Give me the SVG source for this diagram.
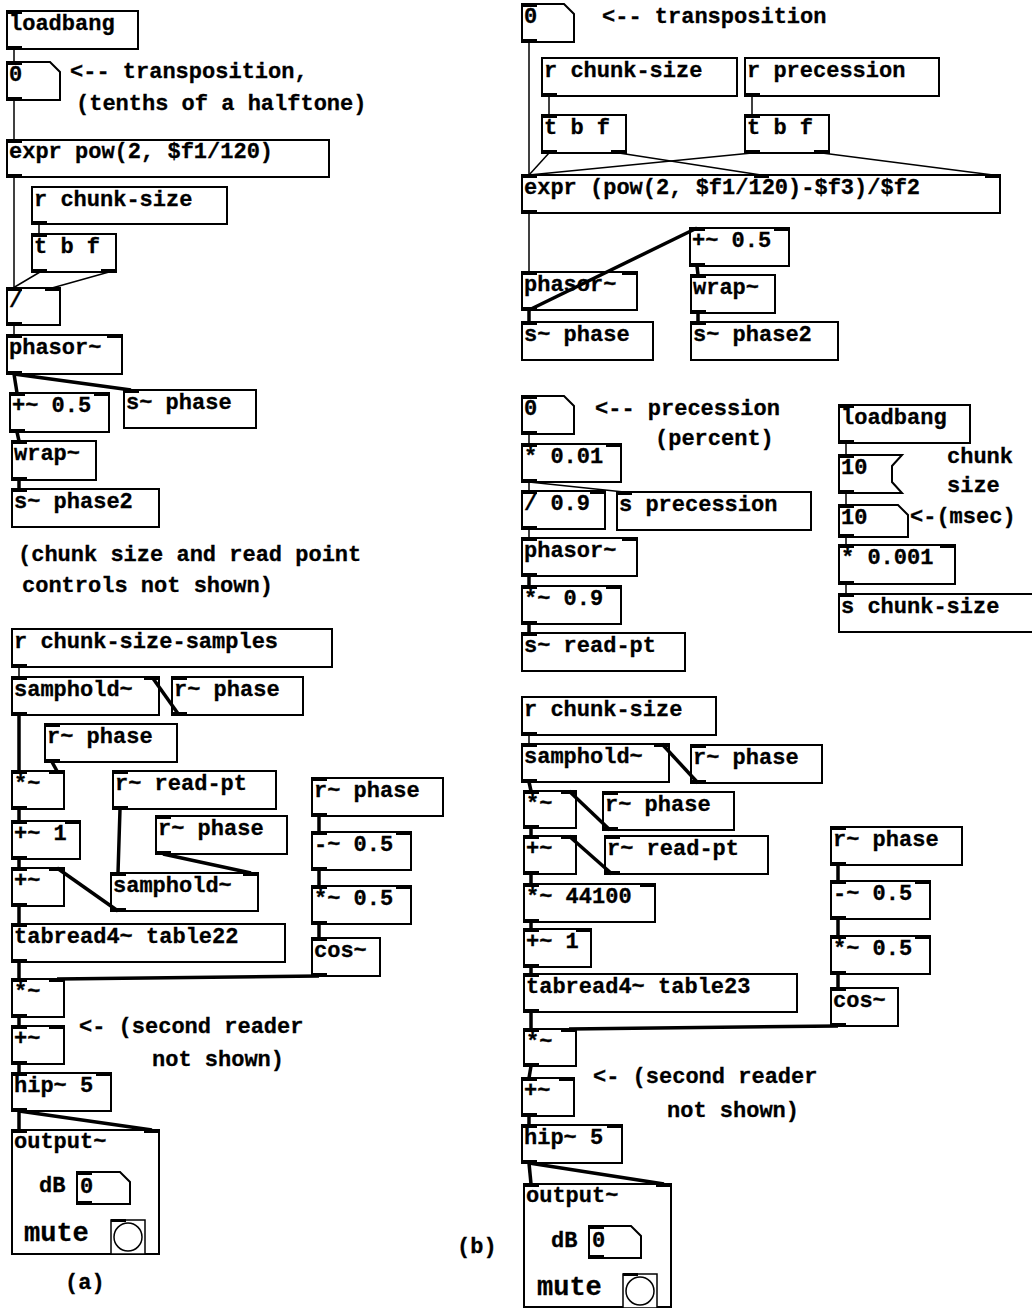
<svg xmlns="http://www.w3.org/2000/svg" width="1032" height="1308" viewBox="0 0 1032 1308">
<style>
.b{fill:#fff;stroke:#000;stroke-width:2}
.t{font-family:"Liberation Mono","Courier New",monospace;font-weight:bold;font-size:22px;fill:#000;stroke:#000;stroke-width:0.3}
.m{font-size:27px}
.io{fill:#000}
.c{stroke:#000;stroke-width:1.5;fill:none}
.s{stroke:#000;stroke-width:3.5;fill:none}
.tg{fill:#fff;stroke:#000;stroke-width:1.5}
</style>
<rect width="1032" height="1308" fill="#fff"/>

<!-- ===== (a) ===== -->
<g id="a_loadbang"><rect class="b" x="7" y="11" width="131" height="38"/><rect class="io" x="7" y="10" width="15" height="4"/><rect class="io" x="7" y="46" width="15" height="4"/><text class="t" x="9" y="30">loadbang</text></g>
<g id="a_num0"><polygon class="b" points="7,62 50,62 60,72 60,100 7,100"/><rect class="io" x="7" y="61" width="15" height="4"/><rect class="io" x="7" y="97" width="15" height="4"/><text class="t" x="9" y="81">0</text></g>
<g id="a_comment1"><text class="t" x="70" y="78">&lt;-- transposition,</text><text class="t" x="76" y="110">(tenths of a halftone)</text></g>
<g id="a_expr"><rect class="b" x="7" y="140" width="322" height="37"/><rect class="io" x="7" y="139" width="15" height="4"/><rect class="io" x="7" y="174" width="15" height="4"/><text class="t" x="9" y="158">expr pow(2, $f1/120)</text></g>
<g id="a_rchunk"><rect class="b" x="32" y="187" width="195" height="37"/><rect class="io" x="32" y="221" width="15" height="4"/><text class="t" x="34" y="206">r chunk-size</text></g>
<g id="a_tbf"><rect class="b" x="32" y="234" width="84" height="38"/><rect class="io" x="32" y="233" width="15" height="4"/><rect class="io" x="32" y="269" width="15" height="4"/><rect class="io" x="101" y="269" width="15" height="4"/><text class="t" x="34" y="253">t b f</text></g>
<g id="a_div"><rect class="b" x="7" y="288" width="53" height="37"/><rect class="io" x="7" y="287" width="15" height="4"/><rect class="io" x="45" y="287" width="15" height="4"/><rect class="io" x="7" y="322" width="15" height="4"/><text class="t" x="9" y="307">/</text></g>
<g id="a_phasor"><rect class="b" x="7" y="335" width="115" height="39"/><rect class="io" x="7" y="334" width="15" height="4"/><rect class="io" x="107" y="334" width="15" height="4"/><rect class="io" x="7" y="371" width="15" height="4"/><text class="t" x="9" y="354">phasor~</text></g>
<g id="a_plus05"><rect class="b" x="10" y="393" width="99" height="39"/><rect class="io" x="10" y="392" width="15" height="4"/><rect class="io" x="94" y="392" width="15" height="4"/><rect class="io" x="10" y="429" width="15" height="4"/><text class="t" x="12" y="412">+~ 0.5</text></g>
<g id="a_sphase"><rect class="b" x="124" y="390" width="132" height="38"/><rect class="io" x="124" y="389" width="15" height="4"/><text class="t" x="126" y="409">s~ phase</text></g>
<g id="a_wrap"><rect class="b" x="12" y="441" width="84" height="39"/><rect class="io" x="12" y="440" width="15" height="4"/><rect class="io" x="12" y="477" width="15" height="4"/><text class="t" x="14" y="460">wrap~</text></g>
<g id="a_sphase2"><rect class="b" x="12" y="489" width="147" height="38"/><rect class="io" x="12" y="488" width="15" height="4"/><text class="t" x="14" y="508">s~ phase2</text></g>
<g id="a_comment2"><text class="t" x="18" y="561">(chunk size and read point</text><text class="t" x="22" y="592">controls not shown)</text></g>
<g id="a_rcss"><rect class="b" x="12" y="629" width="320" height="38"/><rect class="io" x="12" y="664" width="15" height="4"/><text class="t" x="14" y="648">r chunk-size-samples</text></g>
<g id="a_samphold1"><rect class="b" x="12" y="677" width="147" height="38"/><rect class="io" x="12" y="676" width="15" height="4"/><rect class="io" x="144" y="676" width="15" height="4"/><rect class="io" x="12" y="712" width="15" height="4"/><text class="t" x="14" y="696">samphold~</text></g>
<g id="a_rphase1"><rect class="b" x="172" y="677" width="131" height="38"/><rect class="io" x="172" y="676" width="15" height="4"/><rect class="io" x="172" y="712" width="15" height="4"/><text class="t" x="174" y="696">r~ phase</text></g>
<g id="a_rphase2"><rect class="b" x="45" y="724" width="132" height="38"/><rect class="io" x="45" y="723" width="15" height="4"/><rect class="io" x="45" y="759" width="15" height="4"/><text class="t" x="47" y="743">r~ phase</text></g>
<g id="a_mul1"><rect class="b" x="12" y="771" width="52" height="38"/><rect class="io" x="12" y="770" width="15" height="4"/><rect class="io" x="49" y="770" width="15" height="4"/><rect class="io" x="12" y="806" width="15" height="4"/><text class="t" x="14" y="790">*~</text></g>
<g id="a_rreadpt"><rect class="b" x="113" y="771" width="163" height="38"/><rect class="io" x="113" y="770" width="15" height="4"/><rect class="io" x="113" y="806" width="15" height="4"/><text class="t" x="115" y="790">r~ read-pt</text></g>
<g id="a_plus1"><rect class="b" x="12" y="821" width="68" height="38"/><rect class="io" x="12" y="820" width="15" height="4"/><rect class="io" x="65" y="820" width="15" height="4"/><rect class="io" x="12" y="856" width="15" height="4"/><text class="t" x="14" y="840">+~ 1</text></g>
<g id="a_rphase3"><rect class="b" x="156" y="816" width="131" height="38"/><rect class="io" x="156" y="815" width="15" height="4"/><rect class="io" x="156" y="851" width="15" height="4"/><text class="t" x="158" y="835">r~ phase</text></g>
<g id="a_plus2"><rect class="b" x="12" y="868" width="52" height="38"/><rect class="io" x="12" y="867" width="15" height="4"/><rect class="io" x="49" y="867" width="15" height="4"/><rect class="io" x="12" y="903" width="15" height="4"/><text class="t" x="14" y="887">+~</text></g>
<g id="a_samphold2"><rect class="b" x="111" y="873" width="147" height="38"/><rect class="io" x="111" y="872" width="15" height="4"/><rect class="io" x="243" y="872" width="15" height="4"/><rect class="io" x="111" y="908" width="15" height="4"/><text class="t" x="113" y="892">samphold~</text></g>
<g id="a_tabread"><rect class="b" x="12" y="924" width="273" height="38"/><rect class="io" x="12" y="923" width="15" height="4"/><rect class="io" x="12" y="959" width="15" height="4"/><text class="t" x="14" y="943">tabread4~ table22</text></g>
<g id="a_rphase4"><rect class="b" x="312" y="778" width="131" height="38"/><rect class="io" x="312" y="777" width="15" height="4"/><rect class="io" x="312" y="813" width="15" height="4"/><text class="t" x="314" y="797">r~ phase</text></g>
<g id="a_minus05"><rect class="b" x="312" y="832" width="99" height="38"/><rect class="io" x="312" y="831" width="15" height="4"/><rect class="io" x="396" y="831" width="15" height="4"/><rect class="io" x="312" y="867" width="15" height="4"/><text class="t" x="314" y="851">-~ 0.5</text></g>
<g id="a_mul05"><rect class="b" x="312" y="886" width="99" height="38"/><rect class="io" x="312" y="885" width="15" height="4"/><rect class="io" x="396" y="885" width="15" height="4"/><rect class="io" x="312" y="921" width="15" height="4"/><text class="t" x="314" y="905">*~ 0.5</text></g>
<g id="a_cos"><rect class="b" x="312" y="938" width="68" height="38"/><rect class="io" x="312" y="937" width="15" height="4"/><rect class="io" x="312" y="973" width="15" height="4"/><text class="t" x="314" y="957">cos~</text></g>
<g id="a_mul2"><rect class="b" x="12" y="979" width="52" height="38"/><rect class="io" x="12" y="978" width="15" height="4"/><rect class="io" x="49" y="978" width="15" height="4"/><rect class="io" x="12" y="1014" width="15" height="4"/><text class="t" x="14" y="998">*~</text></g>
<g id="a_plus3"><rect class="b" x="12" y="1026" width="52" height="38"/><rect class="io" x="12" y="1025" width="15" height="4"/><rect class="io" x="49" y="1025" width="15" height="4"/><rect class="io" x="12" y="1061" width="15" height="4"/><text class="t" x="14" y="1045">+~</text></g>
<g id="a_comment3"><text class="t" x="79" y="1033">&lt;- (second reader</text><text class="t" x="152" y="1066">not shown)</text></g>
<g id="a_hip"><rect class="b" x="12" y="1073" width="99" height="38"/><rect class="io" x="12" y="1072" width="15" height="4"/><rect class="io" x="96" y="1072" width="15" height="4"/><rect class="io" x="12" y="1108" width="15" height="4"/><text class="t" x="14" y="1092">hip~ 5</text></g>
<g id="a_output"><rect class="b" x="12" y="1130" width="147" height="124"/><rect class="io" x="12" y="1129" width="15" height="4"/><rect class="io" x="144" y="1129" width="15" height="4"/><text class="t" x="14" y="1148">output~</text>
<text class="t" x="39" y="1192">dB</text><polygon class="b" points="77,1172 120,1172 130,1182 130,1204 77,1204"/><rect class="io" x="77" y="1171" width="15" height="4"/><rect class="io" x="77" y="1201" width="15" height="4"/><text class="t" x="80" y="1193">0</text>
<text class="t m" x="24" y="1241">mute</text><rect class="tg" x="111" y="1220" width="34" height="34"/><rect class="io" x="111" y="1219" width="15" height="3"/><circle class="tg" cx="128" cy="1237" r="14"/></g>
<g id="a_label"><text class="t" x="65" y="1289">(a)</text></g>

<!-- ===== (b) ===== -->
<g id="b_num0"><polygon class="b" points="522,4 564,4 574,14 574,42 522,42"/><rect class="io" x="522" y="3" width="15" height="4"/><rect class="io" x="522" y="39" width="15" height="4"/><text class="t" x="524" y="23">0</text></g>
<g id="b_comment1"><text class="t" x="602" y="23">&lt;-- transposition</text></g>
<g id="b_rchunk"><rect class="b" x="542" y="58" width="195" height="38"/><rect class="io" x="542" y="93" width="15" height="4"/><text class="t" x="544" y="77">r chunk-size</text></g>
<g id="b_rprec"><rect class="b" x="745" y="58" width="194" height="38"/><rect class="io" x="745" y="93" width="15" height="4"/><text class="t" x="747" y="77">r precession</text></g>
<g id="b_tbf1"><rect class="b" x="542" y="115" width="84" height="38"/><rect class="io" x="542" y="114" width="15" height="4"/><rect class="io" x="542" y="150" width="15" height="4"/><rect class="io" x="611" y="150" width="15" height="4"/><text class="t" x="544" y="134">t b f</text></g>
<g id="b_tbf2"><rect class="b" x="745" y="115" width="84" height="38"/><rect class="io" x="745" y="114" width="15" height="4"/><rect class="io" x="745" y="150" width="15" height="4"/><rect class="io" x="814" y="150" width="15" height="4"/><text class="t" x="747" y="134">t b f</text></g>
<g id="b_expr"><rect class="b" x="522" y="175" width="478" height="38"/><rect class="io" x="522" y="174" width="15" height="4"/><rect class="io" x="754" y="174" width="15" height="4"/><rect class="io" x="985" y="174" width="15" height="4"/><rect class="io" x="522" y="210" width="15" height="4"/><text class="t" x="524" y="194">expr (pow(2, $f1/120)-$f3)/$f2</text></g>
<g id="b_plus05"><rect class="b" x="690" y="228" width="99" height="38"/><rect class="io" x="690" y="227" width="15" height="4"/><rect class="io" x="774" y="227" width="15" height="4"/><rect class="io" x="690" y="263" width="15" height="4"/><text class="t" x="692" y="247">+~ 0.5</text></g>
<g id="b_phasor1"><rect class="b" x="522" y="272" width="115" height="38"/><rect class="io" x="522" y="271" width="15" height="4"/><rect class="io" x="622" y="271" width="15" height="4"/><rect class="io" x="522" y="307" width="15" height="4"/><text class="t" x="524" y="291">phasor~</text></g>
<g id="b_wrap"><rect class="b" x="691" y="275" width="84" height="38"/><rect class="io" x="691" y="274" width="15" height="4"/><rect class="io" x="691" y="310" width="15" height="4"/><text class="t" x="693" y="294">wrap~</text></g>
<g id="b_sphase"><rect class="b" x="522" y="322" width="131" height="38"/><rect class="io" x="522" y="321" width="15" height="4"/><text class="t" x="524" y="341">s~ phase</text></g>
<g id="b_sphase2"><rect class="b" x="691" y="322" width="147" height="38"/><rect class="io" x="691" y="321" width="15" height="4"/><text class="t" x="693" y="341">s~ phase2</text></g>
<g id="b_num0p"><polygon class="b" points="522,396 564,396 574,406 574,434 522,434"/><rect class="io" x="522" y="395" width="15" height="4"/><rect class="io" x="522" y="431" width="15" height="4"/><text class="t" x="524" y="415">0</text></g>
<g id="b_comment2"><text class="t" x="595" y="415">&lt;-- precession</text><text class="t" x="655" y="445">(percent)</text></g>
<g id="b_mul001"><rect class="b" x="522" y="444" width="99" height="38"/><rect class="io" x="522" y="443" width="15" height="4"/><rect class="io" x="606" y="443" width="15" height="4"/><rect class="io" x="522" y="479" width="15" height="4"/><text class="t" x="524" y="463">* 0.01</text></g>
<g id="b_div09"><rect class="b" x="522" y="491" width="83" height="38"/><rect class="io" x="522" y="490" width="15" height="4"/><rect class="io" x="590" y="490" width="15" height="4"/><rect class="io" x="522" y="526" width="15" height="4"/><text class="t" x="524" y="510">/ 0.9</text></g>
<g id="b_sprec"><rect class="b" x="617" y="492" width="194" height="38"/><rect class="io" x="617" y="491" width="15" height="4"/><text class="t" x="619" y="511">s precession</text></g>
<g id="b_phasor2"><rect class="b" x="522" y="538" width="115" height="38"/><rect class="io" x="522" y="537" width="15" height="4"/><rect class="io" x="622" y="537" width="15" height="4"/><rect class="io" x="522" y="573" width="15" height="4"/><text class="t" x="524" y="557">phasor~</text></g>
<g id="b_mul09"><rect class="b" x="522" y="586" width="99" height="38"/><rect class="io" x="522" y="585" width="15" height="4"/><rect class="io" x="606" y="585" width="15" height="4"/><rect class="io" x="522" y="621" width="15" height="4"/><text class="t" x="524" y="605">*~ 0.9</text></g>
<g id="b_sreadpt"><rect class="b" x="522" y="633" width="163" height="38"/><rect class="io" x="522" y="632" width="15" height="4"/><text class="t" x="524" y="652">s~ read-pt</text></g>
<g id="b_loadbang"><rect class="b" x="839" y="405" width="131" height="38"/><rect class="io" x="839" y="404" width="15" height="4"/><rect class="io" x="839" y="440" width="15" height="4"/><text class="t" x="841" y="424">loadbang</text></g>
<g id="b_num10a"><polygon class="b" points="839,455 902,455 892,466 892,482 902,493 839,493"/><rect class="io" x="839" y="454" width="15" height="4"/><rect class="io" x="839" y="490" width="15" height="4"/><text class="t" x="841" y="474">10</text></g>
<g id="b_comment3"><text class="t" x="947" y="463">chunk</text><text class="t" x="947" y="492">size</text></g>
<g id="b_num10b"><polygon class="b" points="839,505 898,505 908,515 908,537 839,537"/><rect class="io" x="839" y="504" width="15" height="4"/><rect class="io" x="839" y="534" width="15" height="4"/><text class="t" x="841" y="524">10</text></g>
<g id="b_comment4"><text class="t" x="910" y="523">&lt;-(msec)</text></g>
<g id="b_mul0001"><rect class="b" x="839" y="545" width="116" height="39"/><rect class="io" x="839" y="544" width="15" height="4"/><rect class="io" x="940" y="544" width="15" height="4"/><rect class="io" x="839" y="581" width="15" height="4"/><text class="t" x="841" y="564">* 0.001</text></g>
<g id="b_schunk"><rect class="b" x="839" y="594" width="200" height="38"/><rect class="io" x="839" y="593" width="15" height="4"/><text class="t" x="841" y="613">s chunk-size</text></g>
<g id="b_rchunk2"><rect class="b" x="522" y="697" width="194" height="38"/><rect class="io" x="522" y="732" width="15" height="4"/><text class="t" x="524" y="716">r chunk-size</text></g>
<g id="b_samphold"><rect class="b" x="522" y="744" width="147" height="38"/><rect class="io" x="522" y="743" width="15" height="4"/><rect class="io" x="654" y="743" width="15" height="4"/><rect class="io" x="522" y="779" width="15" height="4"/><text class="t" x="524" y="763">samphold~</text></g>
<g id="b_rphase1"><rect class="b" x="691" y="745" width="131" height="38"/><rect class="io" x="691" y="744" width="15" height="4"/><rect class="io" x="691" y="780" width="15" height="4"/><text class="t" x="693" y="764">r~ phase</text></g>
<g id="b_mul1"><rect class="b" x="524" y="791" width="52" height="37"/><rect class="io" x="524" y="790" width="15" height="4"/><rect class="io" x="561" y="790" width="15" height="4"/><rect class="io" x="524" y="825" width="15" height="4"/><text class="t" x="526" y="810">*~</text></g>
<g id="b_rphase2"><rect class="b" x="603" y="792" width="131" height="38"/><rect class="io" x="603" y="791" width="15" height="4"/><rect class="io" x="603" y="827" width="15" height="4"/><text class="t" x="605" y="811">r~ phase</text></g>
<g id="b_plus1"><rect class="b" x="524" y="836" width="52" height="38"/><rect class="io" x="524" y="835" width="15" height="4"/><rect class="io" x="561" y="835" width="15" height="4"/><rect class="io" x="524" y="871" width="15" height="4"/><text class="t" x="526" y="855">+~</text></g>
<g id="b_rreadpt"><rect class="b" x="605" y="836" width="163" height="38"/><rect class="io" x="605" y="835" width="15" height="4"/><rect class="io" x="605" y="871" width="15" height="4"/><text class="t" x="607" y="855">r~ read-pt</text></g>
<g id="b_mul44100"><rect class="b" x="524" y="884" width="131" height="38"/><rect class="io" x="524" y="883" width="15" height="4"/><rect class="io" x="640" y="883" width="15" height="4"/><rect class="io" x="524" y="919" width="15" height="4"/><text class="t" x="526" y="903">*~ 44100</text></g>
<g id="b_plusone"><rect class="b" x="524" y="929" width="67" height="38"/><rect class="io" x="524" y="928" width="15" height="4"/><rect class="io" x="576" y="928" width="15" height="4"/><rect class="io" x="524" y="964" width="15" height="4"/><text class="t" x="526" y="948">+~ 1</text></g>
<g id="b_tabread"><rect class="b" x="524" y="974" width="273" height="38"/><rect class="io" x="524" y="973" width="15" height="4"/><rect class="io" x="524" y="1009" width="15" height="4"/><text class="t" x="526" y="993">tabread4~ table23</text></g>
<g id="b_rphase3"><rect class="b" x="831" y="827" width="131" height="38"/><rect class="io" x="831" y="826" width="15" height="4"/><rect class="io" x="831" y="862" width="15" height="4"/><text class="t" x="833" y="846">r~ phase</text></g>
<g id="b_minus05"><rect class="b" x="831" y="881" width="99" height="38"/><rect class="io" x="831" y="880" width="15" height="4"/><rect class="io" x="915" y="880" width="15" height="4"/><rect class="io" x="831" y="916" width="15" height="4"/><text class="t" x="833" y="900">-~ 0.5</text></g>
<g id="b_mul05"><rect class="b" x="831" y="936" width="99" height="38"/><rect class="io" x="831" y="935" width="15" height="4"/><rect class="io" x="915" y="935" width="15" height="4"/><rect class="io" x="831" y="971" width="15" height="4"/><text class="t" x="833" y="955">*~ 0.5</text></g>
<g id="b_cos"><rect class="b" x="831" y="988" width="67" height="38"/><rect class="io" x="831" y="987" width="15" height="4"/><rect class="io" x="831" y="1023" width="15" height="4"/><text class="t" x="833" y="1007">cos~</text></g>
<g id="b_mul2"><rect class="b" x="524" y="1029" width="52" height="37"/><rect class="io" x="524" y="1028" width="15" height="4"/><rect class="io" x="561" y="1028" width="15" height="4"/><rect class="io" x="524" y="1063" width="15" height="4"/><text class="t" x="526" y="1048">*~</text></g>
<g id="b_plus2"><rect class="b" x="522" y="1078" width="52" height="38"/><rect class="io" x="522" y="1077" width="15" height="4"/><rect class="io" x="559" y="1077" width="15" height="4"/><rect class="io" x="522" y="1113" width="15" height="4"/><text class="t" x="524" y="1097">+~</text></g>
<g id="b_comment5"><text class="t" x="593" y="1083">&lt;- (second reader</text><text class="t" x="667" y="1117">not shown)</text></g>
<g id="b_hip"><rect class="b" x="522" y="1125" width="100" height="38"/><rect class="io" x="522" y="1124" width="15" height="4"/><rect class="io" x="607" y="1124" width="15" height="4"/><rect class="io" x="522" y="1160" width="15" height="4"/><text class="t" x="524" y="1144">hip~ 5</text></g>
<g id="b_output"><rect class="b" x="524" y="1184" width="147" height="123"/><rect class="io" x="524" y="1183" width="15" height="4"/><rect class="io" x="656" y="1183" width="15" height="4"/><text class="t" x="526" y="1202">output~</text>
<text class="t" x="551" y="1247">dB</text><polygon class="b" points="589,1226 631,1226 641,1236 641,1258 589,1258"/><rect class="io" x="589" y="1225" width="15" height="4"/><rect class="io" x="589" y="1255" width="15" height="4"/><text class="t" x="592" y="1247">0</text>
<text class="t m" x="537" y="1295">mute</text><rect class="tg" x="623" y="1274" width="34" height="34"/><rect class="io" x="623" y="1273" width="15" height="3"/><circle class="tg" cx="640" cy="1291" r="14"/></g>
<g id="b_label"><text class="t" x="457" y="1253">(b)</text></g>

<g id="connectors">
<!-- (a) control -->
<line class="c" x1="14" y1="49" x2="14" y2="62"/>
<line class="c" x1="14" y1="100" x2="14" y2="140"/>
<line class="c" x1="14" y1="177" x2="14" y2="288"/>
<line class="c" x1="39" y1="224" x2="39" y2="234"/>
<line class="c" x1="40" y1="272" x2="13" y2="288"/>
<line class="c" x1="109" y1="272" x2="52" y2="288"/>
<line class="c" x1="14" y1="325" x2="14" y2="335"/>
<line class="c" x1="19" y1="667" x2="19" y2="677"/>
<!-- (a) signal -->
<line class="s" x1="14" y1="374" x2="17" y2="393"/>
<line class="s" x1="14" y1="374" x2="131" y2="390"/>
<line class="s" x1="17" y1="432" x2="19" y2="441"/>
<line class="s" x1="19" y1="480" x2="19" y2="489"/>
<line class="s" x1="179" y1="715" x2="152" y2="677"/>
<line class="s" x1="19" y1="715" x2="19" y2="771"/>
<line class="s" x1="52" y1="762" x2="57" y2="771"/>
<line class="s" x1="19" y1="809" x2="19" y2="821"/>
<line class="s" x1="19" y1="859" x2="19" y2="868"/>
<line class="s" x1="120" y1="809" x2="118" y2="873"/>
<line class="s" x1="163" y1="854" x2="251" y2="873"/>
<line class="s" x1="118" y1="911" x2="57" y2="868"/>
<line class="s" x1="19" y1="906" x2="19" y2="924"/>
<line class="s" x1="19" y1="962" x2="19" y2="979"/>
<line class="s" x1="319" y1="816" x2="319" y2="832"/>
<line class="s" x1="319" y1="870" x2="319" y2="886"/>
<line class="s" x1="319" y1="924" x2="319" y2="938"/>
<line class="s" x1="319" y1="976" x2="57" y2="979"/>
<line class="s" x1="19" y1="1017" x2="19" y2="1026"/>
<line class="s" x1="19" y1="1064" x2="19" y2="1073"/>
<line class="s" x1="19" y1="1111" x2="19" y2="1130"/>
<line class="s" x1="19" y1="1111" x2="152" y2="1130"/>
<!-- (b) control -->
<line class="c" x1="529" y1="42" x2="529" y2="175"/>
<line class="c" x1="549" y1="96" x2="549" y2="115"/>
<line class="c" x1="752" y1="96" x2="752" y2="115"/>
<line class="c" x1="549" y1="153" x2="529" y2="175"/>
<line class="c" x1="619" y1="153" x2="761" y2="175"/>
<line class="c" x1="752" y1="153" x2="529" y2="175"/>
<line class="c" x1="822" y1="153" x2="993" y2="175"/>
<line class="c" x1="529" y1="213" x2="529" y2="272"/>
<line class="c" x1="529" y1="434" x2="529" y2="444"/>
<line class="c" x1="529" y1="482" x2="529" y2="491"/>
<line class="c" x1="529" y1="482" x2="624" y2="492"/>
<line class="c" x1="529" y1="529" x2="529" y2="538"/>
<line class="c" x1="846" y1="443" x2="846" y2="455"/>
<line class="c" x1="846" y1="493" x2="846" y2="505"/>
<line class="c" x1="846" y1="537" x2="846" y2="545"/>
<line class="c" x1="846" y1="584" x2="846" y2="594"/>
<line class="c" x1="529" y1="735" x2="529" y2="744"/>
<!-- (b) signal -->
<line class="s" x1="529" y1="310" x2="529" y2="322"/>
<line class="s" x1="529" y1="310" x2="697" y2="228"/>
<line class="s" x1="697" y1="266" x2="698" y2="275"/>
<line class="s" x1="698" y1="313" x2="698" y2="322"/>
<line class="s" x1="529" y1="576" x2="529" y2="586"/>
<line class="s" x1="529" y1="624" x2="529" y2="633"/>
<line class="s" x1="698" y1="783" x2="662" y2="744"/>
<line class="s" x1="529" y1="782" x2="531" y2="791"/>
<line class="s" x1="610" y1="830" x2="569" y2="791"/>
<line class="s" x1="531" y1="828" x2="531" y2="836"/>
<line class="s" x1="612" y1="874" x2="569" y2="836"/>
<line class="s" x1="531" y1="874" x2="531" y2="884"/>
<line class="s" x1="531" y1="922" x2="531" y2="929"/>
<line class="s" x1="531" y1="967" x2="531" y2="974"/>
<line class="s" x1="531" y1="1012" x2="531" y2="1029"/>
<line class="s" x1="838" y1="865" x2="838" y2="881"/>
<line class="s" x1="838" y1="919" x2="838" y2="936"/>
<line class="s" x1="838" y1="974" x2="838" y2="988"/>
<line class="s" x1="838" y1="1026" x2="569" y2="1029"/>
<line class="s" x1="531" y1="1066" x2="529" y2="1078"/>
<line class="s" x1="529" y1="1116" x2="529" y2="1125"/>
<line class="s" x1="529" y1="1163" x2="531" y2="1184"/>
<line class="s" x1="529" y1="1163" x2="664" y2="1184"/>
</g>
</svg>
